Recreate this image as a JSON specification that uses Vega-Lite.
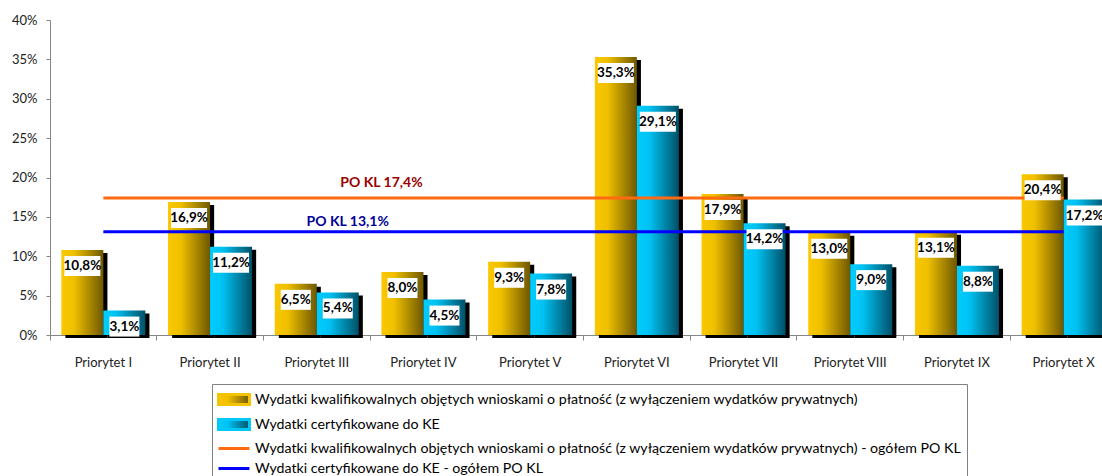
{
  "$schema": "https://vega.github.io/schema/vega-lite/v6.json",
  "width": 1052,
  "height": 315,
  "autosize": {"type": "none"},
  "padding": {"left": 50, "top": 20, "right": 0, "bottom": 141},
  "background": "white",
  "config": {
    "view": {"stroke": null},
    "locale": {"number": {"decimal": ",", "thousands": " ", "grouping": [3], "currency": ["", " zł"]}},
    "axis": {"grid": false, "labelFont": "Lato", "labelFontSize": 13, "labelColor": "#222", "domainColor": "#868686", "tickColor": "#868686"}
  },
  "resolve": {"scale": {"xOffset": "independent"}},
  "datasets": {
    "bars": [
      {"p": "Priorytet I", "s": "Wydatki kwalifikowalnych objętych wnioskami o płatność (z wyłączeniem wydatków prywatnych)", "v": 0.108},
      {"p": "Priorytet I", "s": "Wydatki certyfikowane do KE", "v": 0.031},
      {"p": "Priorytet II", "s": "Wydatki kwalifikowalnych objętych wnioskami o płatność (z wyłączeniem wydatków prywatnych)", "v": 0.169},
      {"p": "Priorytet II", "s": "Wydatki certyfikowane do KE", "v": 0.112},
      {"p": "Priorytet III", "s": "Wydatki kwalifikowalnych objętych wnioskami o płatność (z wyłączeniem wydatków prywatnych)", "v": 0.065},
      {"p": "Priorytet III", "s": "Wydatki certyfikowane do KE", "v": 0.054},
      {"p": "Priorytet IV", "s": "Wydatki kwalifikowalnych objętych wnioskami o płatność (z wyłączeniem wydatków prywatnych)", "v": 0.080},
      {"p": "Priorytet IV", "s": "Wydatki certyfikowane do KE", "v": 0.045},
      {"p": "Priorytet V", "s": "Wydatki kwalifikowalnych objętych wnioskami o płatność (z wyłączeniem wydatków prywatnych)", "v": 0.093},
      {"p": "Priorytet V", "s": "Wydatki certyfikowane do KE", "v": 0.078},
      {"p": "Priorytet VI", "s": "Wydatki kwalifikowalnych objętych wnioskami o płatność (z wyłączeniem wydatków prywatnych)", "v": 0.353},
      {"p": "Priorytet VI", "s": "Wydatki certyfikowane do KE", "v": 0.291},
      {"p": "Priorytet VII", "s": "Wydatki kwalifikowalnych objętych wnioskami o płatność (z wyłączeniem wydatków prywatnych)", "v": 0.179},
      {"p": "Priorytet VII", "s": "Wydatki certyfikowane do KE", "v": 0.142},
      {"p": "Priorytet VIII", "s": "Wydatki kwalifikowalnych objętych wnioskami o płatność (z wyłączeniem wydatków prywatnych)", "v": 0.130},
      {"p": "Priorytet VIII", "s": "Wydatki certyfikowane do KE", "v": 0.090},
      {"p": "Priorytet IX", "s": "Wydatki kwalifikowalnych objętych wnioskami o płatność (z wyłączeniem wydatków prywatnych)", "v": 0.131},
      {"p": "Priorytet IX", "s": "Wydatki certyfikowane do KE", "v": 0.088},
      {"p": "Priorytet X", "s": "Wydatki kwalifikowalnych objętych wnioskami o płatność (z wyłączeniem wydatków prywatnych)", "v": 0.204},
      {"p": "Priorytet X", "s": "Wydatki certyfikowane do KE", "v": 0.172}
    ],
    "lines": [
      {"p": "Priorytet I", "s": "Wydatki kwalifikowalnych objętych wnioskami o płatność (z wyłączeniem wydatków prywatnych) - ogółem PO KL", "v": 0.174},
      {"p": "Priorytet II", "s": "Wydatki kwalifikowalnych objętych wnioskami o płatność (z wyłączeniem wydatków prywatnych) - ogółem PO KL", "v": 0.174},
      {"p": "Priorytet III", "s": "Wydatki kwalifikowalnych objętych wnioskami o płatność (z wyłączeniem wydatków prywatnych) - ogółem PO KL", "v": 0.174},
      {"p": "Priorytet IV", "s": "Wydatki kwalifikowalnych objętych wnioskami o płatność (z wyłączeniem wydatków prywatnych) - ogółem PO KL", "v": 0.174},
      {"p": "Priorytet V", "s": "Wydatki kwalifikowalnych objętych wnioskami o płatność (z wyłączeniem wydatków prywatnych) - ogółem PO KL", "v": 0.174},
      {"p": "Priorytet VI", "s": "Wydatki kwalifikowalnych objętych wnioskami o płatność (z wyłączeniem wydatków prywatnych) - ogółem PO KL", "v": 0.174},
      {"p": "Priorytet VII", "s": "Wydatki kwalifikowalnych objętych wnioskami o płatność (z wyłączeniem wydatków prywatnych) - ogółem PO KL", "v": 0.174},
      {"p": "Priorytet VIII", "s": "Wydatki kwalifikowalnych objętych wnioskami o płatność (z wyłączeniem wydatków prywatnych) - ogółem PO KL", "v": 0.174},
      {"p": "Priorytet IX", "s": "Wydatki kwalifikowalnych objętych wnioskami o płatność (z wyłączeniem wydatków prywatnych) - ogółem PO KL", "v": 0.174},
      {"p": "Priorytet X", "s": "Wydatki kwalifikowalnych objętych wnioskami o płatność (z wyłączeniem wydatków prywatnych) - ogółem PO KL", "v": 0.174},
      {"p": "Priorytet I", "s": "Wydatki certyfikowane do KE - ogółem PO KL", "v": 0.131},
      {"p": "Priorytet II", "s": "Wydatki certyfikowane do KE - ogółem PO KL", "v": 0.131},
      {"p": "Priorytet III", "s": "Wydatki certyfikowane do KE - ogółem PO KL", "v": 0.131},
      {"p": "Priorytet IV", "s": "Wydatki certyfikowane do KE - ogółem PO KL", "v": 0.131},
      {"p": "Priorytet V", "s": "Wydatki certyfikowane do KE - ogółem PO KL", "v": 0.131},
      {"p": "Priorytet VI", "s": "Wydatki certyfikowane do KE - ogółem PO KL", "v": 0.131},
      {"p": "Priorytet VII", "s": "Wydatki certyfikowane do KE - ogółem PO KL", "v": 0.131},
      {"p": "Priorytet VIII", "s": "Wydatki certyfikowane do KE - ogółem PO KL", "v": 0.131},
      {"p": "Priorytet IX", "s": "Wydatki certyfikowane do KE - ogółem PO KL", "v": 0.131},
      {"p": "Priorytet X", "s": "Wydatki certyfikowane do KE - ogółem PO KL", "v": 0.131}
    ],
    "lbl": [
      {"p": "Priorytet IV", "v": 0.174, "t": "PO KL 17,4%"},
      {"p": "Priorytet III", "v": 0.131, "t": "PO KL 13,1%"}
    ]
  },
  "encoding": {
    "x": {
      "field": "p", "type": "nominal", "title": null,
      "sort": ["Priorytet I", "Priorytet II", "Priorytet III", "Priorytet IV", "Priorytet V", "Priorytet VI", "Priorytet VII", "Priorytet VIII", "Priorytet IX", "Priorytet X"],
      "scale": {"paddingInner": 0, "paddingOuter": 0, "range": [0, 1067]},
      "axis": {"labelAngle": 0, "bandPosition": 0, "tickSize": 5, "labelPadding": 16, "labelColor": "#222"}
    },
    "y": {
      "field": "v", "type": "quantitative", "title": null,
      "scale": {"domain": [0, 0.4], "nice": false},
      "axis": {"values": [0, 0.05, 0.1, 0.15, 0.2, 0.25, 0.3, 0.35, 0.4], "format": ".0%", "tickSize": 4, "labelPadding": 9}
    }
  },
  "layer": [
    {
      "data": {"name": "bars"},
      "mark": {"type": "bar", "color": "black", "yOffset": 3, "y2Offset": -3},
      "encoding": {
        "xOffset": {"field": "s", "type": "nominal", "sort": null, "scale": {"type": "band", "domain": ["Wydatki kwalifikowalnych objętych wnioskami o płatność (z wyłączeniem wydatków prywatnych)", "Wydatki certyfikowane do KE"], "paddingInner": 0, "paddingOuter": 0.27, "align": 0.68}}
      }
    },
    {
      "data": {"name": "bars"},
      "mark": {"type": "bar"},
      "encoding": {
        "xOffset": {"field": "s", "type": "nominal", "sort": null, "scale": {"type": "band", "domain": ["Wydatki kwalifikowalnych objętych wnioskami o płatność (z wyłączeniem wydatków prywatnych)", "Wydatki certyfikowane do KE"], "paddingInner": 0, "paddingOuter": 0.27}},
        "fill": {
          "condition": {"test": "datum.s === 'Wydatki certyfikowane do KE'", "value": {"gradient": "linear", "x1": 0, "y1": 0, "x2": 1, "y2": 0, "stops": [{"offset": 0, "color": "#00CCFF"}, {"offset": 0.3, "color": "#00C2F2"}, {"offset": 1, "color": "#005068"}]}},
          "value": {"gradient": "linear", "x1": 0, "y1": 0, "x2": 1, "y2": 0, "stops": [{"offset": 0, "color": "#FAC800"}, {"offset": 0.3, "color": "#F0C000"}, {"offset": 1, "color": "#6E5800"}]}
        }
      }
    },
    {
      "data": {"name": "lines"},
      "mark": {"type": "line", "strokeWidth": 3},
      "encoding": {
        "color": {
          "field": "s", "type": "nominal",
          "scale": {
            "domain": ["Wydatki kwalifikowalnych objętych wnioskami o płatność (z wyłączeniem wydatków prywatnych)", "Wydatki certyfikowane do KE", "Wydatki kwalifikowalnych objętych wnioskami o płatność (z wyłączeniem wydatków prywatnych) - ogółem PO KL", "Wydatki certyfikowane do KE - ogółem PO KL"],
            "range": ["#F5C400", "#00C8F8", "#FF6A13", "#0000FF"]
          },
          "legend": {
            "title": null, "orient": "none", "legendX": 162, "legendY": 364, "direction": "vertical",
            "strokeColor": "#808080", "fillColor": "white", "padding": 5,
            "symbolSize": 324, "labelFont": "Lato", "labelFontSize": 14.2, "labelColor": "#000", "labelLimit": 900,
            "rowPadding": 2, "labelOffset": 17,
            "encode": {
              "symbols": {
                "update": {
                  "shape": {"signal": "datum.index < 2 ? 'M-1,-0.56L2.44,-0.56L2.44,0.56L-1,0.56Z' : 'M-1,0L2.44,0'"},
                  "fill": {"signal": "datum.index == 0 ? {gradient: 'linear', stops: [{offset: 0, color: '#FAC800'}, {offset: 0.3, color: '#F0C000'}, {offset: 1, color: '#6E5800'}]} : datum.index == 1 ? {gradient: 'linear', stops: [{offset: 0, color: '#00CCFF'}, {offset: 0.3, color: '#00C2F2'}, {offset: 1, color: '#005068'}]} : 'transparent'"},
                  "stroke": {"signal": "datum.index == 2 ? '#FF6A13' : datum.index == 3 ? '#0000FF' : 'transparent'"},
                  "strokeWidth": {"value": 3},
                  "opacity": {"value": 1}
                }
              }
            }
          }
        }
      }
    },
    {
      "data": {"name": "bars"},
      "mark": {"type": "point", "filled": true, "color": "white", "opacity": 1, "size": 400, "strokeWidth": 0},
      "encoding": {
        "xOffset": {"field": "s", "type": "nominal", "sort": null, "scale": {"type": "band", "domain": ["Wydatki kwalifikowalnych objętych wnioskami o płatność (z wyłączeniem wydatków prywatnych)", "Wydatki certyfikowane do KE"], "paddingInner": 0, "paddingOuter": 0.27}},
        "shape": {"condition": {"test": "datum.v < 0.1", "value": "M-1.5,0.6L1.5,0.6L1.5,2.6L-1.5,2.6Z"}, "value": "M-1.8,0.6L1.8,0.6L1.8,2.6L-1.8,2.6Z"}
      }
    },
    {
      "data": {"name": "bars"},
      "mark": {"type": "text", "font": "Lato", "fontWeight": "bold", "fontSize": 13.5, "dy": 16, "baseline": "middle", "color": "black"},
      "encoding": {
        "xOffset": {"field": "s", "type": "nominal", "sort": null, "scale": {"type": "band", "domain": ["Wydatki kwalifikowalnych objętych wnioskami o płatność (z wyłączeniem wydatków prywatnych)", "Wydatki certyfikowane do KE"], "paddingInner": 0, "paddingOuter": 0.27}},
        "text": {"field": "v", "type": "quantitative", "format": ".1%"}
      }
    },
    {
      "data": {"name": "lbl"},
      "transform": [{"filter": "datum.v > 0.15"}],
      "mark": {"type": "text", "font": "Lato", "fontWeight": "bold", "fontSize": 14, "dx": -42, "dy": -15, "baseline": "middle", "color": "#9A0000"},
      "encoding": {"text": {"field": "t", "type": "nominal"}}
    },
    {
      "data": {"name": "lbl"},
      "transform": [{"filter": "datum.v < 0.15"}],
      "mark": {"type": "text", "font": "Lato", "fontWeight": "bold", "fontSize": 14, "dx": 31, "dy": -10, "baseline": "middle", "color": "#000099"},
      "encoding": {"text": {"field": "t", "type": "nominal"}}
    }
  ]
}
